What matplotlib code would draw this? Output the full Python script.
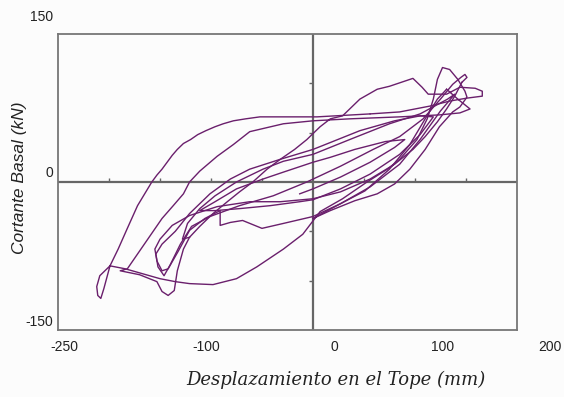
import matplotlib
matplotlib.use("Agg")
import matplotlib.pyplot as plt

# --- hysteresis data (displacement mm, base shear kN) ---
c1_x = [-13, 0, 27, 56, 80, 90, 71, 41, 17, 0, -29, -49, -75, -96, -111, -96, -72, -42, -13, 0]
c1_y = [-12, -7, 5, 20, 35, 43, 41, 33, 25, 20, 10, 3, -7, -20, -29, -29, -27, -24, -20, -18]

c2_x = [0, 27, 56, 85, 105, 118, 105, 80, 46, 17, 0, -32, -62, -81, -101, -121, -135, -148,
        -154, -152, -146, -140, -130, -119, -101, -72, -39, -6, 27, 59, 85, 108, 125, 137,
        145, 149, 151, 146]
c2_y = [-18, -7, 8, 28, 48, 66, 67, 62, 52, 40, 33, 23, 13, 3, -12, -32, -50, -63,
        -73, -86, -95, -84, -63, -45, -35, -24, -14, 0, 16, 33, 46, 64, 84, 99,
        106, 109, 106, 101]

c3_x = [146, 139, 131, 122, 110, 98, 80, 56, 27, 0, -32, -62, -94, -121, -138, -150, -155,
        -153, -148, -142, -132, -121, -106, -91, -91, -81, -69, -50, -29, 0, 27, 51, 75, 95,
        110, 122, 131]
c3_y = [101, 87, 74, 61, 46, 33, 18, 3, -10, -17, -20, -20, -25, -34, -44, -58, -68,
        -80, -90, -88, -70, -49, -37, -29, -44, -41, -39, -47, -42, -35, -22, -9, 13, 38,
        64, 84, 94]

c4_x = [131, 142, 154, 144, 124, 85, 36, 0, -29, -62, -78, -94, -111, -121, -127, -137, -148,
        -160, -172, -182, -189, -170, -153, -148, -142, -136, -133, -127, -121, -111, -98, -84,
        -72, -59, -45, -32, -18, -6, 7, 17, 29, 46, 63, 75, 98, 107, 113, 131, 144, 159, 166,
        166, 151, 134, 115, 85, 56]
c4_y = [94, 84, 74, 70, 68, 66, 64, 62, 59, 51, 38, 26, 11, 0, -12, -24, -37,
        -55, -73, -88, -90, -94, -101, -111, -115, -110, -90, -68, -56, -45, -32, -20,
        -10, 0, 13, 23, 33, 43, 56, 64, 67, 84, 94, 97, 105, 96, 89, 89, 96, 95, 92,
        87, 85, 82, 77, 71, 69]

c5_x = [56, 4, -23, -52, -66, -78, -88, -96, -105, -113, -120, -127, -133, -138, -143, -148,
        -153, -158, -165, -172, -182, -191, -199, -209, -212, -211, -208, -205, -199, -184,
        -167, -150, -135, -121, -98, -75, -55, -29, -10, 7, 29, 53, 73, 85, 102, 112, 118,
        122, 127, 134, 142, 149, 151, 144, 137, 124, 110, 95, 80, 63, 41, 17, 0]
c5_y = [69, 66, 66, 66, 64, 62, 59, 56, 52, 48, 43, 39, 33, 27, 20, 13,
        7, 0, -12, -24, -47, -68, -85, -95, -106, -115, -118, -108, -85, -88,
        -93, -98, -101, -103, -104, -98, -86, -68, -53, -30, -17, 0, 13, 23, 43, 64, 84,
        104, 116, 114, 104, 92, 86, 76, 71, 56, 33, 13, -2, -12, -19, -29, -37]

c6_x = [0, 27, 56, 85, 105, 125, 139, 132, 105, 75, 36, 0, -29, -49, -75, -96, -111, -123,
        -128, -121]
c6_y = [-37, -22, -5, 18, 43, 72, 89, 84, 69, 59, 43, 28, 21, 13, 0, -14, -27, -42,
        -58, -56]

cycles = [(c1_x, c1_y), (c2_x, c2_y), (c3_x, c3_y), (c4_x, c4_y), (c5_x, c5_y), (c6_x, c6_y)]

xtick_labels = ["-250", "-100", "0", "100", "200"]
xtick_pos = [0.015, 0.322, 0.603, 0.837, 1.072]   # axes fraction, as placed in the original
ytick_labels = ["150", "0", "-150"]
ytick_pos = [1.057, 0.530, 0.027]

grid_ticks_x = [-200, -150, -100, -50, 50, 100, 150]
grid_ticks_y = [-100, -50, 50, 100]

line_col = "#6a1f6c"
axis_col = "#666666"
bg = "#fcfcfc"

fig = plt.figure(figsize=(5.64, 3.97), dpi=100, facecolor=bg)
ax = fig.add_axes([0.1028, 0.1688, 0.8138, 0.7456], facecolor=bg)

# crosshair through the origin with little tick marks
ax.axhline(0, color=axis_col, lw=1.6, zorder=1)
ax.axvline(0, color=axis_col, lw=1.6, zorder=1)
ax.plot(grid_ticks_x, [0] * len(grid_ticks_x), ls="none", marker=2, ms=3, mew=1, color=axis_col)
ax.plot([0] * len(grid_ticks_y), grid_ticks_y, ls="none", marker=0, ms=3, mew=1, color=axis_col)

for cx, cy in cycles:
    ax.plot(cx, cy, color=line_col, lw=1.0, zorder=3)

ax.set_xlim(-250, 200)
ax.set_ylim(-150, 150)
ax.set_xticks([])
ax.set_yticks([])
for s in ax.spines.values():
    s.set_color("#777777")
    s.set_linewidth(1.3)

for lab, p in zip(xtick_labels, xtick_pos):
    ax.text(p, -0.057, lab, transform=ax.transAxes, ha="center", va="center",
            fontsize=10, family="Liberation Sans", color="#222222", clip_on=False)
for lab, p in zip(ytick_labels, ytick_pos):
    ax.text(-0.011, p, lab, transform=ax.transAxes, ha="right", va="center",
            fontsize=10, family="Liberation Sans", color="#222222", clip_on=False)

ax.text(-0.083, 0.514, "Cortante Basal (kN)", transform=ax.transAxes, rotation=90,
        ha="center", va="center", fontsize=12.5, style="italic",
        family="Liberation Sans", color="#222222")
ax.text(0.606, -0.169, "Desplazamiento en el Tope (mm)", transform=ax.transAxes,
        ha="center", va="center", fontsize=13, style="italic",
        family="DejaVu Serif", color="#222222")

fig.savefig("out.png", dpi=100, facecolor=bg)
